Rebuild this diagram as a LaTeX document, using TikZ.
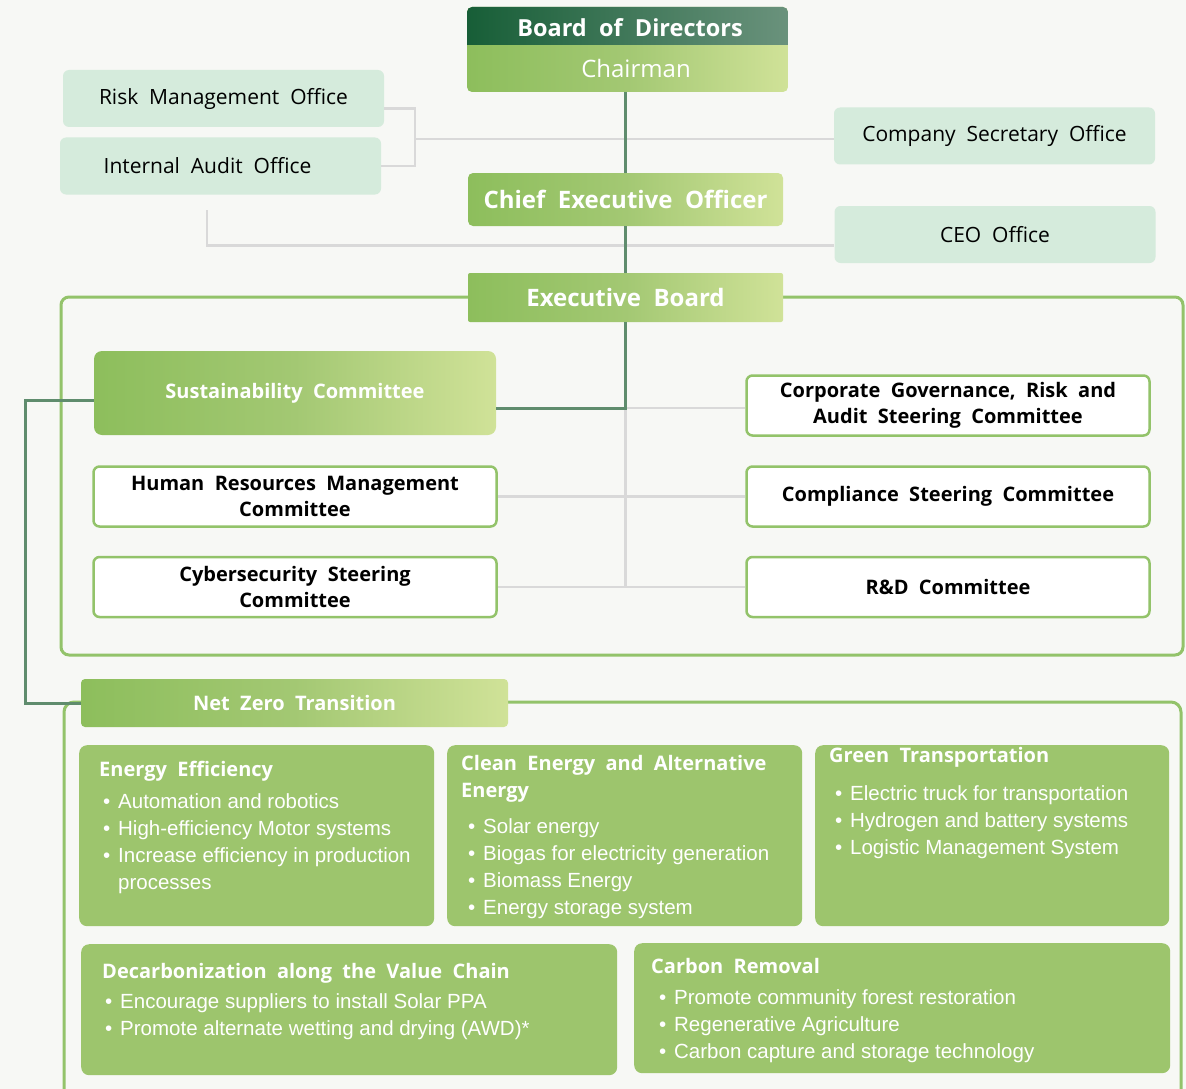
\documentclass[tikz,border=0pt]{standalone}
\usepackage{fontspec}
\setmainfont{Open Sans}[WordSpace=2]
\newfontfamily\itemfont{Liberation Sans}
\definecolor{pagebg}{HTML}{F7F8F5}
\definecolor{boardL}{HTML}{175E37}
\definecolor{boardR}{HTML}{6A927C}
\definecolor{lightL}{HTML}{8DBE5C}
\definecolor{lightM}{HTML}{A3C873}
\definecolor{lightR}{HTML}{D0E298}
\definecolor{officefill}{HTML}{D5EBDC}
\definecolor{framegreen}{HTML}{93C36A}
\definecolor{topicfill}{HTML}{9DC56D}
\definecolor{linkdark}{HTML}{5F8C6D}
\definecolor{linkgray}{HTML}{D9D9D9}
\newcommand\itm[1][4pt]{\hspace*{#1}\makebox[15pt][l]{\textbullet}\ignorespaces}
\newcommand\ttlfont{\rmfamily\bfseries\fontsize{20}{27}\selectfont}

\begin{document}
\begin{tikzpicture}[x=1pt,y=-1pt,every node/.style={inner sep=0pt},
	grad/.style={shading=axis,left color=lightL,right color=lightR,middle color=lightM},
	head/.style={grad,rounded corners=5pt,text=white,minimum width=315pt,font=\bfseries\fontsize{24}{28}\selectfont},
	office/.style={fill=officefill,rounded corners=6pt,minimum width=321pt,minimum height=57pt,font=\fontsize{21}{25}\selectfont},
	cmte/.style={draw=framegreen,line width=2.5pt,fill=white,rounded corners=6pt,minimum width=403pt,minimum height=60pt,align=center,font=\bfseries\fontsize{20}{26}\selectfont},
	topic/.style={fill=topicfill,rounded corners=8pt,anchor=north west},
	topictext/.style={anchor=north west,align=left,text=white,font=\itemfont\fontsize{20.5}{27}\selectfont},
	darkline/.style={draw=linkdark,line width=3pt},
	grayline/.style={draw=linkgray,line width=2.5pt}]
	\path[use as bounding box,fill=pagebg] (0,0) rectangle (1186,1089);

	% board and chairman
	\begin{scope}
		\clip[rounded corners=5pt] (467,7) rectangle (788,92);
		\shade[grad] (467,7) rectangle (788,92);
		\shade[left color=boardL,right color=boardR] (467,7) rectangle (788,45);
	\end{scope}
	\node[text=white,font=\bfseries\fontsize{23.5}{28}\selectfont] (board) at (630,28) {Board of Directors};
	\node[minimum width=321pt,minimum height=47pt,text=white,font=\fontsize{24}{28}\selectfont] (chair) at (636,68.5) {Chairman};

	% offices
	\node[office] (risk) at (223.5,98.5) {Risk Management Office};
	\node[office] (audit) at (220.5,166) {Internal Audit Office\hspace*{26pt}};
	\node[office] (secr) at (994.5,136) {Company Secretary Office};
	\node[office] (ceooff) at (995,234.5) {CEO Office};

	\coordinate (brk) at (415,139);
	\coordinate (audtail) at (207,210);
	\draw[grayline] ([yshift=-10pt]risk.east) -| (brk) |- (audit.east);
	\draw[grayline] (brk) -- (brk -| secr.west);
	\draw[grayline] (audtail) |- ([yshift=-11pt]ceooff.west);

	% executive frame
	\draw[draw=framegreen,line width=3pt,rounded corners=8pt] (61,297) rectangle (1183,655);

	\node[head,minimum height=53pt] (ceo) at (625.5,199.5) {Chief Executive Officer};
	\node[head,minimum height=49pt,rounded corners=2pt] (exec) at (625.5,297.5) {Executive Board};
	\draw[darkline] (ceo.north) -- (ceo.north |- chair.south);
	\draw[darkline] (ceo) -- (exec);

	\node[head,minimum width=402pt,minimum height=84pt,rounded corners=8pt,font=\bfseries\fontsize{20}{26}\selectfont] (sust) at (295,393) {Sustainability Committee};
	\node[cmte] (hr) at (295,496.5) {Human Resources Management\\Committee};
	\node[cmte] (cyber) at (295,587) {Cybersecurity Steering\\Committee};
	\node[cmte] (corp) at (948,405.5) {Corporate Governance, Risk and\\Audit Steering Committee};
	\node[cmte] (comp) at (948,496.5) {Compliance Steering Committee};
	\node[cmte] (rnd) at (948,587) {R\&D Committee};

	\coordinate (hub) at (625.5,408);
	\draw[grayline] (hub) -- (hub |- rnd.west);
	\draw[grayline] (hub) -- (hub -| corp.west);
	\draw[grayline] (hr) -- (comp);
	\draw[grayline] (cyber) -- (rnd);
	\draw[darkline] (exec.south) -- (hub) -- (hub -| sust.east);

	% net zero
	\draw[draw=framegreen,line width=3pt,rounded corners=10pt] (64,702) rectangle (1181,1140);
	\node[head,minimum width=427pt,minimum height=48pt,rounded corners=4pt,font=\bfseries\fontsize{20}{26}\selectfont] (netzero) at (294.5,703) {Net Zero Transition};
	\draw[darkline] ([yshift=-7pt]sust.west) -- ++(-68,0) |- (netzero.west);

	\node[topic,minimum width=355pt,minimum height=181pt] (ee) at (79,745) {};
	\node[topic,minimum width=355pt,minimum height=181pt] (ce) at (447,745) {};
	\node[topic,minimum width=354pt,minimum height=181pt] (gt) at (815,745) {};
	\node[topic,minimum width=536pt,minimum height=131pt] (dc) at (81,944) {};
	\node[topic,minimum width=536pt,minimum height=130pt] (cr) at (634,943) {};

	\node[topictext] (ee-text) at ([xshift=20pt,yshift=-16pt]ee.north west) {{\ttlfont Energy Efficiency}\\[5pt]
		\itm Automation and robotics\\
		\itm High-efficiency Motor systems\\
		\itm Increase efficiency in production\\
		\hspace*{19pt}processes};
	\node[topictext] (ce-text) at ([xshift=14pt,yshift=-10pt]ce.north west) {{\ttlfont Clean Energy and Alternative}\\
		{\ttlfont Energy}\\[9pt]
		\itm[7pt] Solar energy\\
		\itm[7pt] Biogas for electricity generation\\
		\itm[7pt] Biomass Energy\\
		\itm[7pt] Energy storage system};
	\node[topictext] (gt-text) at ([xshift=14pt,yshift=-2pt]gt.north west) {{\ttlfont Green Transportation}\\[11pt]
		\itm[6pt] Electric truck for transportation\\
		\itm[6pt] Hydrogen and battery systems\\
		\itm[6pt] Logistic Management System};
	\node[topictext] (dc-text) at ([xshift=21pt,yshift=-19pt]dc.north west) {{\ttlfont Decarbonization along the Value Chain}\\[3pt]
		\itm[3pt] Encourage suppliers to install Solar PPA\\
		\itm[3pt] Promote alternate wetting and drying (AWD)*};
	\node[topictext] (cr-text) at ([xshift=17pt,yshift=-15pt]cr.north west) {{\ttlfont Carbon Removal}\\[4pt]
		\itm[8pt] Promote community forest restoration\\
		\itm[8pt] Regenerative Agriculture\\
		\itm[8pt] Carbon capture and storage technology};
\end{tikzpicture}
\end{document}
